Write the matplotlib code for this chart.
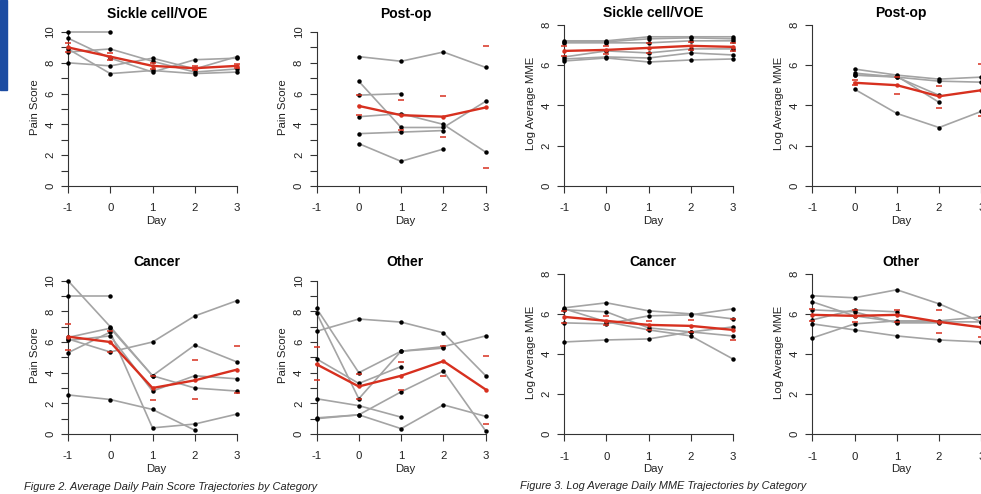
import numpy as np
import matplotlib
matplotlib.use('Agg')
from matplotlib import pyplot as plt
from matplotlib.patches import Rectangle

plt.rcParams['font.family'] = ['Liberation Sans', 'DejaVu Sans']

nan = np.nan
days = [-1, 0, 1, 2, 3]

# ---- Figure 2: average daily pain score, one row per patient ----
pain_sickle = [
    [10.0, 10.0, nan, nan, nan],
    [9.6, 8.3, 7.4, 8.2, 8.3],
    [8.7, 8.9, 8.1, 7.4, 7.6],
    [8.0, 7.8, 8.3, 7.6, 8.4],
    [8.9, 7.3, 7.5, 7.3, 7.4],
]
pain_sickle_mean = [9.0, 8.4, 7.8, 7.65, 7.8]
pain_sickle_hi = [9.3, 8.65, 8.0, 7.8, 7.95]
pain_sickle_lo = [8.7, 8.15, 7.6, 7.5, 7.65]

pain_postop = [
    [nan, 8.4, 8.1, 8.7, 7.7],
    [nan, 6.8, 3.8, 3.8, 5.5],
    [nan, 4.5, 4.7, 4.0, 2.2],
    [nan, 5.9, 6.0, nan, nan],
    [nan, 3.4, 3.5, 3.6, nan],
    [nan, 2.75, 1.6, 2.4, nan],
]
pain_postop_mean = [nan, 5.2, 4.6, 4.5, 5.1]
pain_postop_hi = [nan, 5.9, 5.6, 5.85, 9.1]
pain_postop_lo = [nan, 4.6, 3.65, 3.15, 1.15]

pain_cancer = [
    [10.0, 7.0, 3.8, 3.0, 2.8],
    [9.0, 9.0, nan, nan, nan],
    [6.2, 5.35, 6.0, 7.7, 8.7],
    [5.3, 6.65, 0.4, 0.65, 1.3],
    [6.1, 6.4, 2.8, 3.8, 3.6],
    [2.55, 2.25, 1.6, 0.25, nan],
    [6.3, 6.9, 3.8, 5.8, 4.7],
]
pain_cancer_mean = [6.35, 6.0, 3.0, 3.5, 4.2]
pain_cancer_hi = [7.2, 6.75, 3.8, 4.8, 5.75]
pain_cancer_lo = [5.5, 5.35, 2.2, 2.3, 2.7]

pain_other = [
    [6.7, 7.5, 7.3, 6.6, 3.8],
    [8.2, 4.0, 5.4, 5.7, 6.4],
    [7.9, 2.3, 5.4, 5.6, nan],
    [4.9, 3.3, 4.4, nan, nan],
    [2.3, 1.85, 1.1, nan, nan],
    [1.0, 1.25, 2.75, 4.1, 0.2],
    [1.05, 1.25, 0.35, 1.9, 1.15],
]
pain_other_mean = [4.55, 3.1, 3.8, 4.75, 2.9]
pain_other_hi = [5.65, 3.9, 4.7, 5.75, 5.1]
pain_other_lo = [3.5, 2.3, 2.9, 3.8, 0.65]

# ---- Figure 3: log average daily MME ----
mme_sickle = [
    [7.2, 7.2, 7.4, 7.4, 7.4],
    [7.15, 7.15, 7.3, 7.35, 7.3],
    [7.1, 7.1, 7.1, 7.2, 7.2],
    [6.4, 6.7, 6.6, 6.8, 6.8],
    [6.3, 6.4, 6.35, 6.6, 6.5],
    [6.2, 6.35, 6.15, 6.25, 6.3],
]
mme_sickle_mean = [6.7, 6.75, 6.85, 6.95, 6.9]
mme_sickle_hi = [6.95, 6.95, 7.1, 7.15, 7.1]
mme_sickle_lo = [6.45, 6.55, 6.6, 6.75, 6.7]

mme_postop = [
    [nan, 5.8, 5.5, 5.3, 5.4],
    [nan, 5.6, 5.4, 5.2, 5.15],
    [nan, 5.5, 5.45, 4.15, nan],
    [nan, 5.5, 5.4, 4.5, nan],
    [nan, 4.8, 3.6, 2.9, 3.7],
]
mme_postop_mean = [nan, 5.12, 5.0, 4.45, 4.75]
mme_postop_hi = [nan, 5.25, 5.4, 4.95, 6.05]
mme_postop_lo = [nan, 5.0, 4.55, 3.85, 3.45]

mme_cancer = [
    [4.6, 4.7, 4.75, 5.1, 5.35],
    [6.3, 6.55, 6.15, 6.0, 5.75],
    [6.25, 5.6, 5.2, 4.9, 3.75],
    [5.55, 5.5, 5.9, 5.95, 6.25],
    [6.2, 6.1, 5.3, 5.1, 4.9],
]
mme_cancer_mean = [5.85, 5.65, 5.45, 5.4, 5.2]
mme_cancer_hi = [6.15, 5.9, 5.65, 5.7, 5.75]
mme_cancer_lo = [5.55, 5.45, 5.2, 5.1, 4.7]

mme_other = [
    [6.9, 6.8, 7.2, 6.5, 5.6],
    [6.6, 5.9, 5.6, 5.6, 5.6],
    [4.8, 5.5, 5.65, 5.65, 5.85],
    [5.5, 5.2, 4.9, 4.7, 4.6],
    [5.7, 6.2, 6.1, nan, nan],
    [6.2, 6.1, 5.55, 5.55, nan],
]
mme_other_mean = [5.95, 5.9, 5.95, 5.6, 5.33]
mme_other_hi = [6.25, 6.2, 6.2, 6.2, 5.8]
mme_other_lo = [5.65, 5.6, 5.6, 5.03, 4.87]

W, H = 981, 494
GREY = '#a4a4a4'
RED = '#d7301f'
AXC = '#333333'

fig = plt.figure(figsize=(W / 100, H / 100), dpi=100)


def fx(x):
    return x / W


def fy(y):
    return 1 - y / H


def panel(box, title, title_y, ylabel, ymax, yticks, ylabels,
          patients, mean, hi, lo):
    x0, x1, y0, y1 = box
    ax = fig.add_axes([fx(x0), fy(y1), (x1 - x0) / W, (y1 - y0) / H])
    ax.set_xlim(-1, 3)
    ax.set_ylim(0, ymax)
    ax.patch.set_alpha(0)
    for row in patients:
        ax.plot(days, row, color=GREY, lw=1.2, clip_on=False, zorder=2)
        ax.plot(days, row, 'o', color='black', ms=3.2, mew=0,
                clip_on=False, zorder=3)
    ax.plot(days, hi, '_', color=RED, ms=5, mew=1.1, clip_on=False, zorder=4)
    ax.plot(days, lo, '_', color=RED, ms=5, mew=1.1, clip_on=False, zorder=4)
    ax.plot(days, mean, '-o', color=RED, lw=1.7, ms=3.2, mew=0,
            clip_on=False, zorder=5)

    for s in ['top', 'right']:
        ax.spines[s].set_visible(False)
    for s in ['left', 'bottom']:
        ax.spines[s].set_color(AXC)
        ax.spines[s].set_linewidth(0.8)
    ax.set_xticks(days)
    ax.set_xticklabels([str(d) for d in days])
    ax.set_yticks(yticks)
    ax.set_yticklabels(ylabels, rotation=90, va='center')
    ax.tick_params(direction='out', length=5, width=0.8, color=AXC,
                   labelsize=8.2, labelcolor='#222222')
    ax.tick_params(axis='x', pad=7.5)
    ax.tick_params(axis='y', pad=4)

    xc = x0 + (1.1 + 1) / 4 * (x1 - x0)
    fig.text(fx(xc), fy(title_y), title, ha='center', va='center',
             fontsize=10, fontweight='bold')
    fig.text(fx(xc), fy(y1 + 35), 'Day', ha='center', va='center',
             fontsize=8.2, color='#222222')
    fig.text(fx(x0 - 33), fy((y0 + y1) / 2 - 2), ylabel, ha='center',
             va='center', rotation=90, fontsize=8.2, color='#222222')
    return ax


pain_ticks = list(range(0, 11))
pain_labels = [str(t) if t % 2 == 0 else '' for t in pain_ticks]
mme_ticks = [0, 2, 4, 6, 8]
mme_labels = [str(t) for t in mme_ticks]

panel((68, 237, 32, 186), 'Sickle cell/VOE', 14, 'Pain Score', 10,
      pain_ticks, pain_labels, pain_sickle, pain_sickle_mean,
      pain_sickle_hi, pain_sickle_lo)
panel((316.5, 485.7, 32, 186), 'Post-op', 14, 'Pain Score', 10,
      pain_ticks, pain_labels, pain_postop, pain_postop_mean,
      pain_postop_hi, pain_postop_lo)
panel((68, 237, 280.7, 434), 'Cancer', 262, 'Pain Score', 10,
      pain_ticks, pain_labels, pain_cancer, pain_cancer_mean,
      pain_cancer_hi, pain_cancer_lo)
panel((316.5, 485.7, 280.7, 434), 'Other', 262, 'Pain Score', 10,
      pain_ticks, pain_labels, pain_other, pain_other_mean,
      pain_other_hi, pain_other_lo)

panel((564.3, 733, 24.7, 186), 'Sickle cell/VOE', 13, 'Log Average MME', 8,
      mme_ticks, mme_labels, mme_sickle, mme_sickle_mean,
      mme_sickle_hi, mme_sickle_lo)
panel((812.3, 981.3, 24.7, 186), 'Post-op', 13, 'Log Average MME', 8,
      mme_ticks, mme_labels, mme_postop, mme_postop_mean,
      mme_postop_hi, mme_postop_lo)
panel((564.3, 733, 273.7, 434.3), 'Cancer', 262, 'Log Average MME', 8,
      mme_ticks, mme_labels, mme_cancer, mme_cancer_mean,
      mme_cancer_hi, mme_cancer_lo)
panel((812.3, 981.3, 273.7, 434.3), 'Other', 262, 'Log Average MME', 8,
      mme_ticks, mme_labels, mme_other, mme_other_mean,
      mme_other_hi, mme_other_lo)

fig.text(fx(24), fy(487), 'Figure 2. Average Daily Pain Score Trajectories by Category',
         ha='left', va='center', fontsize=7.9, style='italic', color='#222222')
fig.text(fx(520), fy(486), 'Figure 3. Log Average Daily MME Trajectories by Category',
         ha='left', va='center', fontsize=7.9, style='italic', color='#222222')

# blue bar at the top-left edge
fig.patches.append(Rectangle((0, fy(90)), fx(7), 90 / H, transform=fig.transFigure,
                             color='#1c4ca2', zorder=10))

fig.savefig('out.png', dpi=100)
